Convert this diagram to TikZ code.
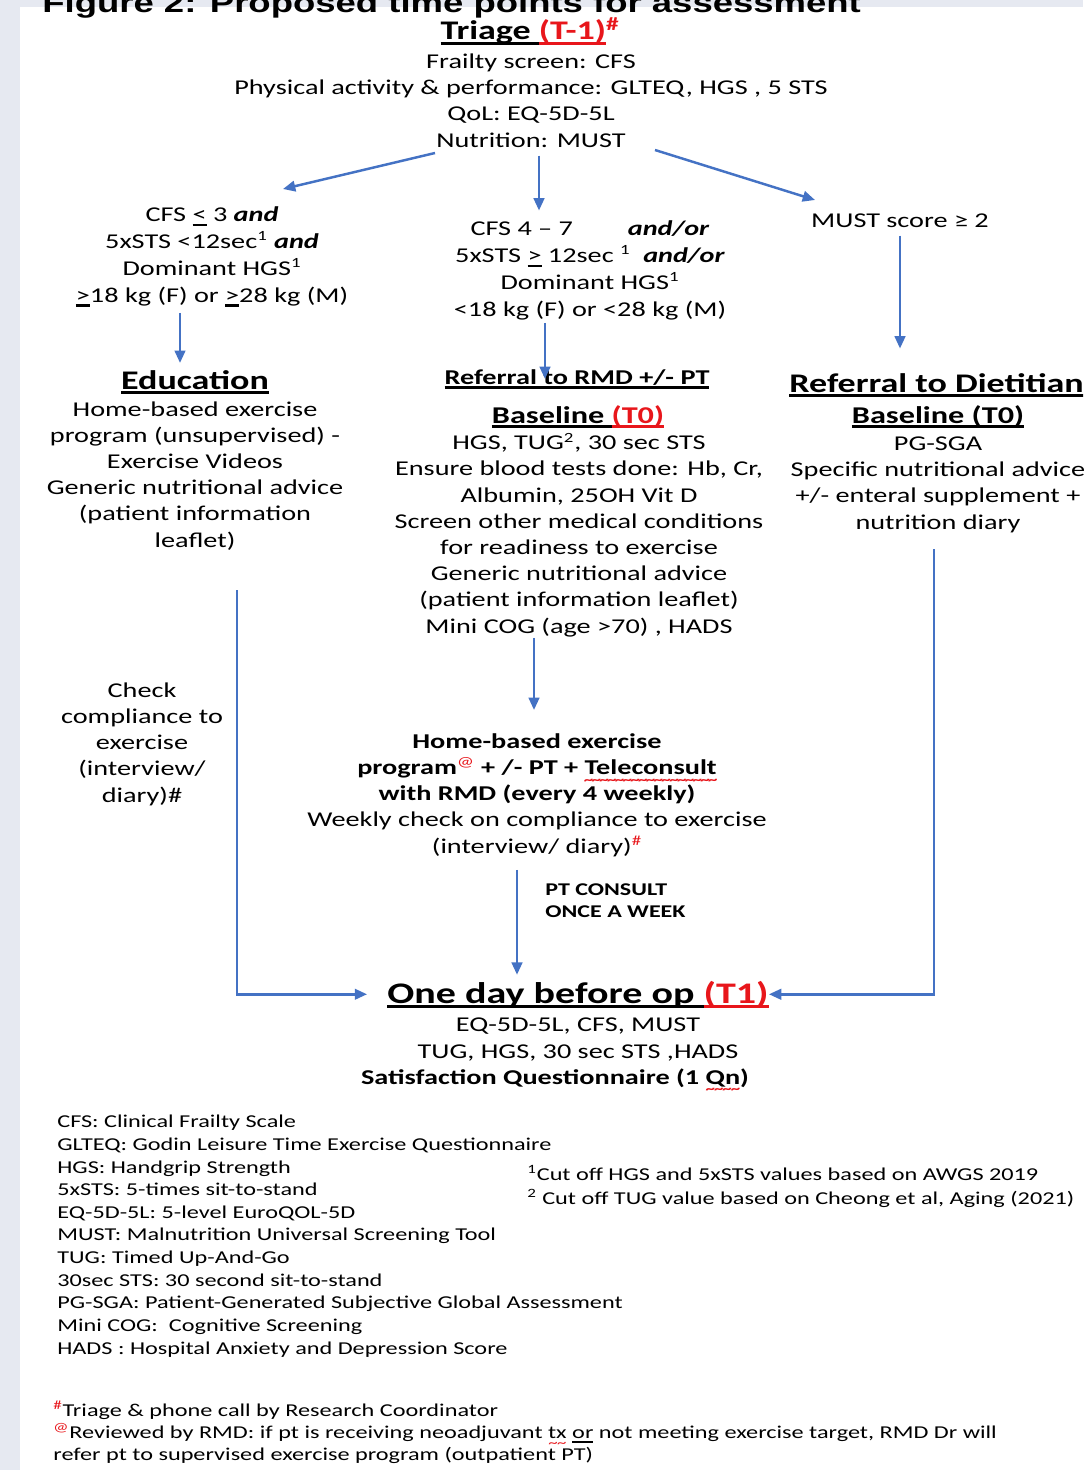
\documentclass[tikz,border=0pt]{standalone}
\usepackage{fontspec}
\setmainfont{Carlito}[FakeStretch=1.34]
\newfontfamily\titlefont{Liberation Sans}[FakeStretch=1.34]
\usetikzlibrary{positioning,calc,arrows.meta}
\definecolor{flowblue}{HTML}{4472C4}
\definecolor{redcol}{HTML}{E8161B}
\definecolor{stripcol}{HTML}{E6E9F1}
\newsavebox\ulbox
% thick underline and red spell-check wave
\newcommand\hdul[1]{\leavevmode\sbox\ulbox{#1}\rlap{\rule[-2.6pt]{\wd\ulbox}{1.2pt}}\usebox\ulbox}
\newcommand\redwave[1]{\leavevmode\sbox\ulbox{#1}\rlap{\raisebox{-5.5pt}[0pt][0pt]{\textcolor{redcol}{\fontsize{8}{8}\selectfont\hbox to\wd\ulbox{\xleaders\hbox{\kern-0.5pt\textasciitilde\kern-0.5pt}\hfill}}}}\usebox\ulbox}
\tikzset{
  flow/.style={draw=flowblue,line width=1.4pt,-{Triangle[length=7pt,width=6pt]}},
  bodytext/.style={inner sep=0pt,align=center,anchor=base,font=\fontsize{12}{14.9}\selectfont},
  headtext/.style={inner sep=0pt,anchor=base,font=\bfseries\fontsize{15.3}{18}\selectfont},
  subhead/.style={inner sep=0pt,anchor=base,font=\bfseries\fontsize{13.7}{16}\selectfont},
  keytext/.style={inner sep=0pt,align=left,anchor=base west,font=\fontsize{10.3}{12.87}\selectfont},
}

\begin{document}
\begin{tikzpicture}[x=0.02cm,y=-0.02cm]
  \path[use as bounding box,clip] (0,0) rectangle (1083,1470);
  \fill[stripcol] (0,0) rectangle (1083,1470);
  \fill[white] (20,7) rectangle (1083,1470);
  \node[inner sep=0pt,anchor=base west,font=\titlefont\bfseries\fontsize{15.5}{18}\selectfont] (title) at (42,12.5)
    {Figure 2: Proposed time points for assessment};

  % triage (multi-line nodes sit on their last baseline)
  \node[headtext] (triage) at (530,40)
    {\hdul{Triage }\textcolor{redcol}{\hdul{(T-1)}}\textsuperscript{\textcolor{redcol}{\#}}};
  \node[bodytext] (screen) at (531,147)
    {Frailty screen: CFS\\Physical activity \& performance: GLTEQ, HGS , 5 STS\\QoL: EQ-5D-5L\\Nutrition: MUST};

  % three branches
  \node[bodytext,font=\fontsize{12}{15.3}\selectfont] (lowrisk) at (212,302)
    {CFS \hdul{<} 3 \textbf{\textit{and}}\\5xSTS <12sec\textsuperscript{1} \textbf{\textit{and}}\\Dominant HGS\textsuperscript{1}\\\hdul{>}18 kg (F) or \hdul{>}28 kg (M)};
  \node[bodytext,font=\fontsize{12}{15.3}\selectfont] (highrisk) at (590,316)
    {CFS 4 -- 7\hspace{2.6em}\textbf{\textit{and/or}}\\5xSTS \hdul{>} 12sec \textsuperscript{1}\ \ \textbf{\textit{and/or}}\\Dominant HGS\textsuperscript{1}\\<18 kg (F) or <28 kg (M)};
  \node[bodytext] (must) at (900,227) {MUST score ≥ 2};

  % education
  \node[headtext] (edu) at (195,389) {\hdul{Education}};
  \node[bodytext] (edutext) at (195,547)
    {Home-based exercise\\program (unsupervised) -\\Exercise Videos\\Generic nutritional advice\\(patient information\\leaflet)};

  % referral to RMD
  \node[subhead,font=\bfseries\fontsize{12}{14}\selectfont] (refrmd) at (577,384) {\hdul{Referral to RMD +/- PT}};
  \node[subhead] (base0) at (578,423) {\hdul{Baseline }\textcolor{redcol}{\hdul{(T0)}}};
  \node[bodytext] (basetext) at (579,633)
    {HGS, TUG\textsuperscript{2}, 30 sec STS\\Ensure blood tests done: Hb, Cr,\\Albumin, 25OH Vit D\\Screen other medical conditions\\for readiness to exercise\\Generic nutritional advice\\(patient information leaflet)\\Mini COG (age >70) , HADS};

  % referral to dietitian
  \node[headtext,anchor=base west] (refdiet) at (789,392) {\hdul{Referral to Dietitian}};
  \node[subhead] (diet0) at (938,423) {\hdul{Baseline (T0)}};
  \node[bodytext] (diettext) at (938,529)
    {PG-SGA\\Specific nutritional advice\\+/- enteral supplement +\\nutrition diary};

  \node[bodytext] (check) at (142,802) {Check\\compliance to\\exercise\\(interview/\\diary)\#};

  \node[bodytext] (prog) at (537,853)
    {\textbf{Home-based exercise}\\\textbf{program}\textsuperscript{\textcolor{redcol}{@}}\textbf{ + /- PT + \redwave{Teleconsult}}\\\textbf{with RMD (every 4 weekly)}\\Weekly check on compliance to exercise\\(interview/ diary)\textsuperscript{\textcolor{redcol}{\#}}};
  \node[keytext,font=\bfseries\fontsize{10.2}{12.5}\selectfont] (ptweek) at (545,917) {PT CONSULT\\ONCE A WEEK};

  % one day before op
  \node[headtext,font=\bfseries\fontsize{17}{20}\selectfont] (t1) at (578,1003)
    {\hdul{One day before op }\textcolor{redcol}{\hdul{(T1)}}};
  \node[bodytext] (t1text) at (578,1058) {EQ-5D-5L, CFS, MUST\\TUG, HGS, 30 sec STS ,HADS};
  \node[bodytext,font=\bfseries\fontsize{12}{14.9}\selectfont] (survey) at (555,1084)
    {Satisfaction Questionnaire (1 \redwave{Qn})};

  % key
  \node[keytext] (abbr) at (57,1354)
    {CFS: Clinical Frailty Scale\\GLTEQ: Godin Leisure Time Exercise Questionnaire\\HGS: Handgrip Strength\\5xSTS: 5-times sit-to-stand\\EQ-5D-5L: 5-level EuroQOL-5D\\MUST: Malnutrition Universal Screening Tool\\TUG: Timed Up-And-Go\\30sec STS: 30 second sit-to-stand\\PG-SGA: Patient-Generated Subjective Global Assessment\\Mini COG:\ \ Cognitive Screening\\HADS : Hospital Anxiety and Depression Score};
  \node[keytext,font=\fontsize{10.3}{13.6}\selectfont] (cutoff) at (527,1204)
    {\textsuperscript{1}Cut off HGS and 5xSTS values based on AWGS 2019\\\textsuperscript{2} Cut off TUG value based on Cheong et al, Aging (2021)};
  \node[keytext,font=\fontsize{10.3}{12.5}\selectfont] (notes) at (53,1460)
    {\textsuperscript{\textcolor{redcol}{\#}}Triage \& phone call by Research Coordinator\\\textsuperscript{\textcolor{redcol}{@}}Reviewed by RMD: if pt is receiving neoadjuvant \redwave{tx} \hdul{or} not meeting exercise target, RMD Dr will\\refer pt to supervised exercise program (outpatient PT)};

  % connectors
  \coordinate (forkL) at (435,153);
  \coordinate (forkR) at (655,150);
  \coordinate (tipL) at (283,189);
  \coordinate (tipR) at (815,200);
  \coordinate (eduout) at (237,590);
  \coordinate (dietout) at (934,549);
  \draw[flow] (forkL) -- (tipL);
  \draw[flow] ($(screen.south)+(8,8)$) -- ++(0,55);
  \draw[flow] (forkR) -- (tipR);
  \draw[flow] ($(lowrisk.south)+(-32,6)$) -- ++(0,50);
  \draw[flow] ($(highrisk.south)+(-45,3)$) -- ++(0,56);
  \draw[flow] ($(must.south)+(0,8)$) -- ++(0,113);
  \draw[flow] ($(basetext.south)+(-45,1)$) -- ++(0,72);
  \draw[flow] ($(prog.south)+(-20,13)$) -- ++(0,105);
  \draw[flow] (eduout) |- ([xshift=-0.4cm]t1.west);
  \draw[flow] (dietout) |- (t1.east);
\end{tikzpicture}
\end{document}
